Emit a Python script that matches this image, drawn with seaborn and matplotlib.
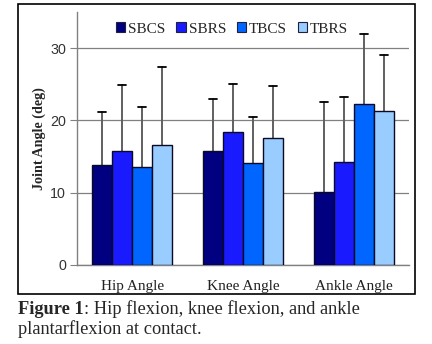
import matplotlib
matplotlib.use("Agg")
import matplotlib.pyplot as plt
import seaborn as sns
import pandas as pd
from matplotlib.patches import Rectangle

# Joint angles at contact (mean and SD, degrees)
joints = ["Hip Angle", "Knee Angle", "Ankle Angle"]
conditions = ["SBCS", "SBRS", "TBCS", "TBRS"]
sbcs_mean = [13.9, 15.8, 10.1]
sbrs_mean = [15.8, 18.4, 14.3]
tbcs_mean = [13.6, 14.1, 22.3]
tbrs_mean = [16.6, 17.6, 21.3]
sbcs_sd = [7.3, 7.1, 12.5]
sbrs_sd = [9.1, 6.6, 9.0]
tbcs_sd = [8.2, 6.4, 9.7]
tbrs_sd = [10.8, 7.1, 7.8]
y_ticks = [0, 10, 20, 30]

colors = ["#000080", "#1a1aff", "#0066ff", "#99ccff"]

means = [sbcs_mean, sbrs_mean, tbcs_mean, tbrs_mean]
sds = [sbcs_sd, sbrs_sd, tbcs_sd, tbrs_sd]
rows = []
for cond, m_list, s_list in zip(conditions, means, sds):
    for joint, m, s in zip(joints, m_list, s_list):
        rows.append({"joint": joint, "condition": cond, "mean": m, "sd": s})
df = pd.DataFrame(rows)

sns.set_style("white")
plt.rcParams["font.family"] = ["Liberation Serif", "DejaVu Serif"]

fig = plt.figure(figsize=(4.32, 3.44), dpi=100)
ax = fig.add_axes([77 / 432, 79 / 344, 332 / 432, 253 / 344])

sns.barplot(data=df, x="joint", y="mean", hue="condition", order=joints,
            hue_order=conditions, palette=colors, width=0.72, errorbar=None,
            edgecolor="#0a0a25", linewidth=1.0, saturation=1, ax=ax, zorder=3)

# Upper-only SD whiskers
for cont, cond in zip(ax.containers, conditions):
    sub = df[df["condition"] == cond].set_index("joint").loc[joints]
    for bar, s in zip(cont, sub["sd"]):
        xc = bar.get_x() + bar.get_width() / 2
        h = bar.get_height()
        ax.plot([xc, xc], [h, h + s], color="#606060", lw=1.4, zorder=2)
        ax.plot([xc - 0.036, xc + 0.036], [h + s, h + s], color="black", lw=1.3, zorder=2)

ax.set_ylim(0, 35)
ax.set_xlim(-0.5, 2.5)
ax.set_yticks(y_ticks)
ax.set_yticklabels([str(t) for t in y_ticks], fontsize=10.3, color="#333333",
                   family="Liberation Sans")
ax.set_xticks(range(len(joints)))
ax.set_xticklabels(joints, fontsize=11, color="#222222")
ax.set_xticks([-0.5, 0.5, 1.5, 2.5], minor=True)
ax.tick_params(axis="x", which="major", length=0, pad=11)
ax.tick_params(axis="x", which="minor", length=5, color="#808080", direction="out")
ax.tick_params(axis="y", length=5, color="#808080", direction="out", pad=3, left=True)
ax.set_xlabel("")
ax.set_ylabel("Joint Angle (deg)", fontsize=10.2, fontweight="bold", labelpad=3)

ax.grid(axis="y", color="#808080", lw=0.9, zorder=0)
ax.set_axisbelow(True)
for side in ["top", "right"]:
    ax.spines[side].set_visible(False)
for side in ["left", "bottom"]:
    ax.spines[side].set_color("#808080")
    ax.spines[side].set_linewidth(1.0)

handles = [Rectangle((0, 0), 1, 1, facecolor=c, edgecolor="#202040", lw=0.8) for c in colors]
ax.legend(handles, conditions, loc="center", bbox_to_anchor=(0.467, 0.933), ncol=4,
          frameon=False, fontsize=11, handlelength=0.6, handleheight=0.6,
          handletextpad=0.2, columnspacing=0.7, borderpad=0)

# Frame around the chart area
fig.patches.append(Rectangle((18 / 432, 50 / 344), 397 / 432, 290 / 344,
                             transform=fig.transFigure, fill=False,
                             edgecolor="black", lw=1.2))

# Caption
fig.canvas.draw()
renderer = fig.canvas.get_renderer()
t1 = fig.text(18 / 432, 1 - 314 / 344, "Figure 1", fontsize=13.2, fontweight="bold",
              va="baseline", ha="left")
bb = t1.get_window_extent(renderer=renderer)
fig.text(bb.x1 / fig.bbox.width, 1 - 314 / 344, ": Hip flexion, knee flexion, and ankle",
         fontsize=13.2, va="baseline", ha="left")
fig.text(18 / 432, 1 - 334 / 344, "plantarflexion at contact.", fontsize=13.2,
         va="baseline", ha="left")

fig.savefig("out.png", dpi=100)
